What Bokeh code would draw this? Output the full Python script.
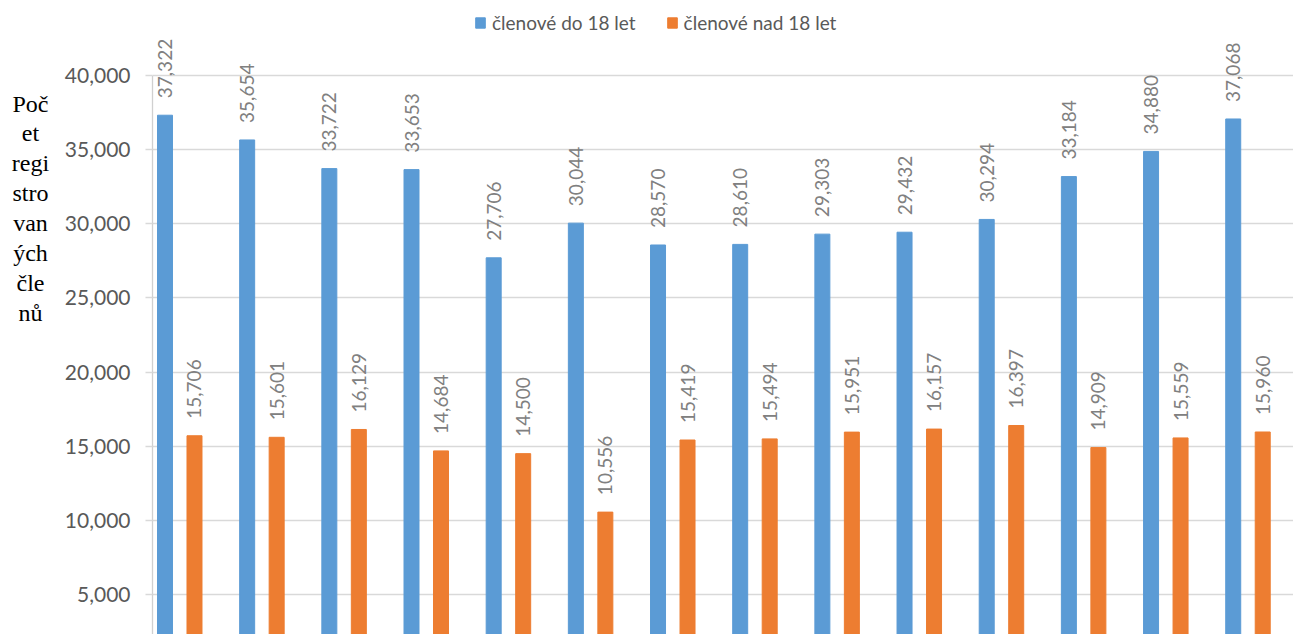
from bokeh.plotting import figure
from bokeh.models import (ColumnDataSource, Range1d, FixedTicker, NumeralTickFormatter,
                          LabelSet, Legend, LegendItem)
from bokeh.core.properties import value
from bokeh.transform import dodge
from bokeh.layouts import row
from bokeh.embed import file_html
from bokeh.resources import INLINE

# ---- data ----
groups = list(range(14))
under18 = [37322, 35654, 33722, 33653, 27706, 30044, 28570, 28610, 29303, 29432, 30294, 33184, 34880, 37068]
over18 = [15706, 15601, 16129, 14684, 14500, 10556, 15419, 15494, 15951, 16157, 16397, 14909, 15559, 15960]
series_names = ["členové do 18 let", "členové nad 18 let"]
y_title_lines = ["Poč", "et", "regi", "stro", "van", "ých", "čle", "nů"]
y_ticks = list(range(5000, 40001, 5000))

fmt = lambda v: f"{v:,}"
src = ColumnDataSource(dict(
    x=groups, u=under18, o=over18,
    ut=[fmt(v) for v in under18], ot=[fmt(v) for v in over18],
))

BLUE = "#5b9bd5"
ORANGE = "#ed7d31"
FONT = "Lato"
H = 634
LW = 56  # width of the y-title strip

# ---- left strip with the y-axis title ----
pt = figure(width=LW, height=H, output_backend="svg", toolbar_location=None,
            x_range=Range1d(0, LW), y_range=Range1d(0, H),
            min_border_left=0, min_border_right=0, min_border_top=0, min_border_bottom=0)
pt.axis.visible = False
pt.grid.visible = False
pt.outline_line_color = None
tsrc = ColumnDataSource(dict(
    t=y_title_lines,
    x=[30] * len(y_title_lines),
    y=[H - 103 - i * 29.86 for i in range(len(y_title_lines))],
))
pt.text(x="x", y="y", text="t", source=tsrc, text_align="center", text_baseline="alphabetic",
        text_font=value("Liberation Serif"), text_font_size="24px", text_color="black")

# ---- main chart ----
p = figure(width=1293 - LW, height=H, output_backend="svg", toolbar_location=None,
           x_range=Range1d(-0.3316, 13.554), y_range=Range1d(2303, 45058),
           min_border_left=152 - LW, min_border_right=0, min_border_top=0, min_border_bottom=0)
p.xaxis.visible = False
p.xgrid.visible = False
p.outline_line_color = None

OFF = 0.1795
W = 0.1825
r1 = p.vbar(x=dodge("x", -OFF, range=p.x_range), top="u", width=W, bottom=0, source=src,
            fill_color=BLUE, line_color=BLUE)
r2 = p.vbar(x=dodge("x", OFF, range=p.x_range), top="o", width=W, bottom=0, source=src,
            fill_color=ORANGE, line_color=ORANGE)

for col, tcol, off in (("u", "ut", -OFF), ("o", "ot", OFF)):
    p.add_layout(LabelSet(x=dodge("x", off, range=p.x_range), y=col, text=tcol, source=src,
                          angle=1.5707963, text_align="left", text_baseline="middle",
                          y_offset=17, x_offset=0, text_font=value(FONT),
                          text_font_size=value("19px"), text_color=value("#808080")))

ax = p.yaxis[0]
ax.ticker = FixedTicker(ticks=y_ticks)
ax.bounds = (0, 40000)
ax.formatter = NumeralTickFormatter(format="0,0")
ax.major_label_text_font = FONT
ax.major_label_text_font_size = "21px"
ax.major_label_text_color = "#595959"
ax.major_tick_out = 7
ax.major_tick_in = 0
ax.minor_tick_line_color = None
ax.major_tick_line_color = "#d9d9d9"
ax.major_tick_line_width = 1.3
ax.axis_line_color = "#d0d0d0"
ax.axis_line_width = 1.3
ax.major_label_standoff = 15

p.ygrid.ticker = FixedTicker(ticks=y_ticks)
p.ygrid.grid_line_color = "#d9d9d9"
p.ygrid.grid_line_width = 1.3

legend = Legend(items=[LegendItem(label=series_names[0], renderers=[r1]),
                       LegendItem(label=series_names[1], renderers=[r2])],
                orientation="horizontal", location=(322, 600),
                label_text_font=FONT, label_text_font_size="19px", label_text_color="#595959",
                glyph_width=12, glyph_height=13, label_standoff=6, spacing=30,
                padding=0, margin=0, border_line_color=None, background_fill_alpha=0)
p.add_layout(legend, "center")

layout = row(pt, p, spacing=0)
open("out.html", "w").write(file_html(layout, INLINE))
